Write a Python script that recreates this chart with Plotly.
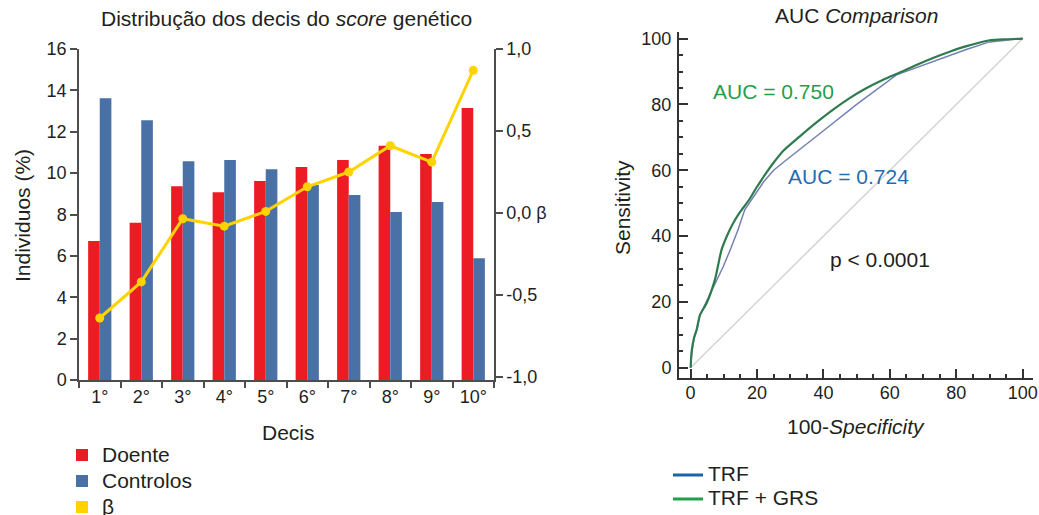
import plotly.graph_objects as go

W, H = 1039, 515

# ---------------- data ----------------
decis = ["1°", "2°", "3°", "4°", "5°", "6°", "7°", "8°", "9°", "10°"]
doente = [6.72, 7.6, 9.37, 9.08, 9.62, 10.3, 10.63, 11.32, 10.92, 13.15]
controlos = [13.62, 12.56, 10.58, 10.63, 10.19, 9.42, 8.94, 8.12, 8.6, 5.89]
beta = [-0.64, -0.42, -0.035, -0.08, 0.01, 0.16, 0.25, 0.41, 0.31, 0.87]

beta_tickvals = [-1.0, -0.5, 0.0, 0.5, 1.0]
beta_ticktext = ["-1,0", "-0,5", "0,0 β", "0,5", "1,0"]

trf_x = [0, 0.3, 1, 2, 2.8, 4, 5.8, 7.8, 9.8, 12, 14.3, 16.3, 19, 22, 25, 28.9, 40, 50, 62, 73, 83, 90, 100]
trf_y = [0, 4, 9, 12, 16, 18.5, 22, 26.3, 30.7, 36, 42, 48, 52, 56.5, 60, 63.2, 72, 80, 89, 93, 96.7, 99, 100]

grs_x = [0, 0.3, 1, 1.8, 2.8, 4.8, 7.3, 9.3, 11, 12.8, 14.8, 16.9, 17.9, 20, 22.5, 24.9, 28, 32.9, 38, 43, 48, 53, 58, 63, 68, 73, 78, 83.1, 90.1, 95, 100]
grs_y = [0, 5, 9, 11.5, 16, 19.6, 26.7, 35.8, 40.2, 43.9, 47.2, 50, 51.5, 55, 58.8, 62.2, 66, 70.3, 74.6, 78.5, 82, 85, 87.5, 89.7, 92, 94.1, 96, 97.7, 99.5, 99.8, 100]

diag_x = [0, 100]
diag_y = [0, 100]

roc_ticks = [0, 20, 40, 60, 80, 100]

# ---------------- styling ----------------
FONT = "Liberation Sans, Arial, Helvetica, sans-serif"
TXT = "#231f20"
RED = "#ec1c24"
BLUE = "#4a71a5"
YELLOW = "#ffd200"
AX = "#4d4d4d"


def px(x):
    return x / W


def py(y):
    return 1 - y / H


def big(s):
    return "<span style='font-size:21px'>" + s + "</span>"


fig = go.Figure()

fig.add_trace(go.Bar(x=decis, y=doente, name=big("Doente"), marker=dict(color=RED, line=dict(width=0)),
                     xaxis="x", yaxis="y", legend="legend"))
fig.add_trace(go.Bar(x=decis, y=controlos, name=big("Controlos"), marker=dict(color=BLUE, line=dict(width=0)),
                     xaxis="x", yaxis="y", legend="legend"))
fig.add_trace(go.Scatter(x=decis, y=beta, mode="lines+markers", name="β", showlegend=False,
                         line=dict(color=YELLOW, width=3), marker=dict(color=YELLOW, size=9),
                         xaxis="x", yaxis="y2"))
fig.add_trace(go.Scatter(x=[None], y=[None], mode="markers", name=big("β"),
                         marker=dict(color=YELLOW, symbol="square", size=12),
                         xaxis="x", yaxis="y2", legend="legend"))

# ROC
fig.add_trace(go.Scatter(x=diag_x, y=diag_y, mode="lines", line=dict(color="#d4d4d4", width=1.5),
                         showlegend=False, xaxis="x2", yaxis="y3"))
fig.add_trace(go.Scatter(x=trf_x, y=trf_y, mode="lines", line=dict(color="#7480b4", width=1.5),
                         showlegend=False, xaxis="x2", yaxis="y3"))
fig.add_trace(go.Scatter(x=grs_x, y=grs_y, mode="lines", line=dict(color="#2f7a4f", width=2.2, shape="spline", smoothing=0.6),
                         showlegend=False, xaxis="x2", yaxis="y3"))
fig.add_trace(go.Scatter(x=[None], y=[None], mode="lines", name=big("TRF"), line=dict(color="#1b63ad", width=3),
                         xaxis="x2", yaxis="y3", legend="legend2"))
fig.add_trace(go.Scatter(x=[None], y=[None], mode="lines", name=big("TRF + GRS"), line=dict(color="#1fa04c", width=3),
                         xaxis="x2", yaxis="y3", legend="legend2"))

tickfont = dict(family=FONT, size=18, color=TXT)

fig.update_layout(
    width=W, height=H,
    margin=dict(l=0, r=0, t=0, b=0, autoexpand=False),
    paper_bgcolor="white", plot_bgcolor="white",
    font=dict(family=FONT, color=TXT, size=18),
    barmode="group", bargap=0.44, bargroupgap=0,
    xaxis=dict(domain=[px(79), px(494)], anchor="y", type="category", range=[-0.5, 9.5],
               showline=True, linecolor=AX, linewidth=1.5, mirror=False,
               ticks="outside", ticklen=6, tickwidth=1.5, tickcolor=AX, tickson="boundaries",
               tickfont=tickfont, showgrid=False, zeroline=False, fixedrange=True),
    yaxis=dict(domain=[py(380), py(49)], anchor="x", range=[0, 16], dtick=2,
               showline=True, linecolor=AX, linewidth=1.5,
               ticks="outside", ticklen=7, tickwidth=1.5, tickcolor=AX,
               tickfont=tickfont, showgrid=False, zeroline=False),
    yaxis2=dict(overlaying="y", side="right", anchor="x", range=[-1.018, 1.0],
                tickvals=beta_tickvals, ticktext=beta_ticktext,
                showline=True, linecolor=AX, linewidth=1.5,
                ticks="outside", ticklen=7, tickwidth=1.5, tickcolor=AX,
                tickfont=tickfont, showgrid=False, zeroline=False),
    xaxis2=dict(domain=[px(679), px(1033)], anchor="y3", range=[-3.5, 103.1],
                tickvals=roc_ticks, showline=True, linecolor="#333", linewidth=2,
                ticks="inside", ticklen=9, tickwidth=2, tickcolor="#333",
                minor=dict(dtick=5, ticks="inside", ticklen=4, tickwidth=1.5, tickcolor="#333"),
                ticklabelstandoff=-3,
                tickfont=tickfont, showgrid=False, zeroline=False),
    yaxis3=dict(domain=[py(378), py(32)], anchor="x2", range=[-3.1, 102],
                tickvals=roc_ticks, showline=True, linecolor="#333", linewidth=2,
                ticks="inside", ticklen=9, tickwidth=2, tickcolor="#333",
                minor=dict(dtick=5, ticks="inside", ticklen=4, tickwidth=1.5, tickcolor="#333"),
                ticklabelstandoff=2,
                tickfont=tickfont, showgrid=False, zeroline=False),
    legend=dict(x=px(62), y=py(437), xanchor="left", yanchor="top", orientation="v",
                font=dict(family=FONT, size=17.7, color=TXT), itemwidth=30,
                bgcolor="rgba(0,0,0,0)", borderwidth=0),
    legend2=dict(x=px(668), y=py(458), xanchor="left", yanchor="top", orientation="v",
                 font=dict(family=FONT, size=16.15, color=TXT), itemwidth=30,
                 bgcolor="rgba(0,0,0,0)", borderwidth=0),
    showlegend=True,
)

ann = [
    dict(text="Distribução dos decis do <i>score</i> genético", x=px(286), y=py(18)),
    dict(text="Individuos (%)", x=px(22), y=py(216), textangle=-90),
    dict(text="Decis", x=px(288), y=py(432)),
    dict(text="AUC <i>Comparison</i>", x=px(856), y=py(16)),
    dict(text="Sensitivity", x=px(622), y=py(208), textangle=-90),
    dict(text="100-<i>Specificity</i>", x=px(856), y=py(426)),
]
for a in ann:
    fig.add_annotation(xref="paper", yref="paper", showarrow=False, xanchor="center", yanchor="middle",
                       font=dict(family=FONT, size=21, color=TXT), **a)

fig.add_annotation(xref="x2", yref="y3", x=24.9, y=83.9, text="AUC = 0.750", showarrow=False,
                   font=dict(family=FONT, size=21, color="#1fa04a"))
fig.add_annotation(xref="x2", yref="y3", x=47.4, y=58.1, text="AUC = 0.724", showarrow=False,
                   font=dict(family=FONT, size=21, color="#1f6db5"))
fig.add_annotation(xref="x2", yref="y3", x=57, y=32.8, text="p &lt; 0.0001", showarrow=False,
                   font=dict(family=FONT, size=21, color=TXT))

fig.write_html("out.html")
